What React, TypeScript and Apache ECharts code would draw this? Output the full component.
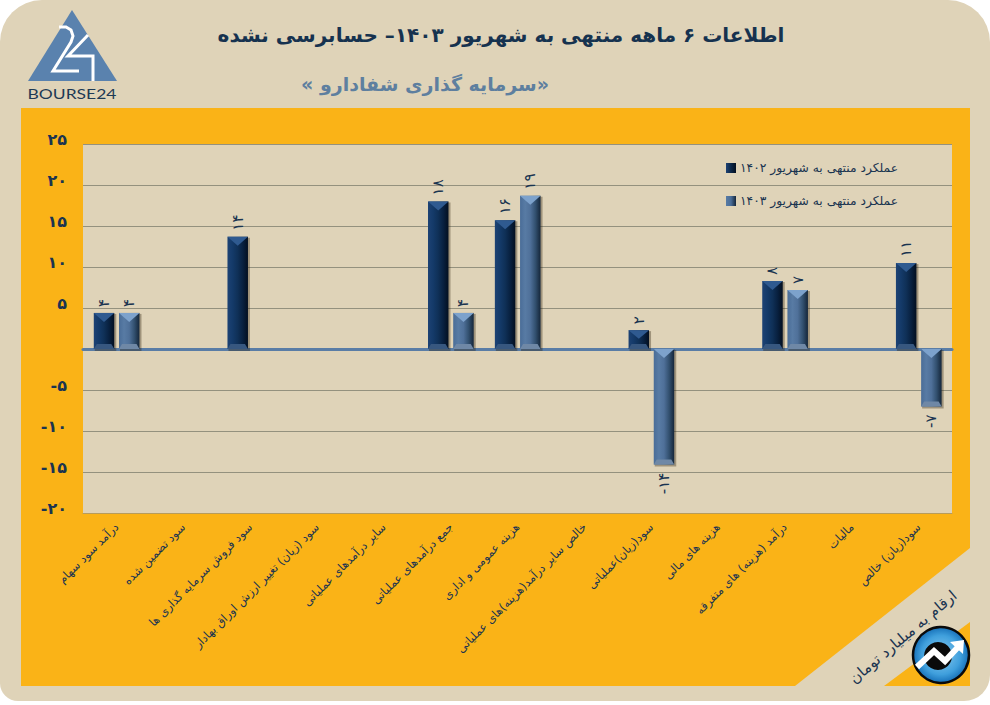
import React, { useEffect, useRef } from "react";
import * as echarts from "echarts";

const categories = [
  "درآمد سود سهام",
  "سود تضمین شده",
  "سود فروش سرمایه گذاری ها",
  "سود (زیان) تغییر ارزش اوراق بهادار",
  "سایر درآمدهای عملیاتی",
  "جمع درآمدهای عملیاتی",
  "هزینه عمومی و اداری",
  "خالص سایر درآمد(هزینه)های عملیاتی",
  "سود(زیان)عملیاتی",
  "هزینه های مالی",
  "درآمد (هزینه) های متفرقه",
  "مالیات",
  "سود(زیان) خالص",
];
const values1402 = [4.4, null, 13.7, null, null, 18, 15.7, null, 2.3, null, 8.3, null, 10.5];
const values1403 = [4.4, null, null, null, null, 4.4, 18.7, null, -14.1, null, 7.2, null, -7];
const name1402 = "عملکرد منتهی به شهریور ۱۴۰۲";
const name1403 = "عملکرد منتهی به شهریور ۱۴۰۳";
const titleText = "اطلاعات ۶ ماهه منتهی به شهریور ۱۴۰۳– حسابرسی نشده";
const subtitleText = "\u200F«سرمایه گذاری شفادارو »\u200F";
const unitText = "ارقام به میلیارد تومان";
const logoText = "BOURSE24";

const FONT = "'DejaVu Sans', sans-serif";
const NAVY = "#1a3450";
const BEIGE = "#DFD3B8";
const ORANGE = "#FAB317";

const fa = (n: number) =>
  String(n).replace(/\d/g, (d) => "۰۱۲۳۴۵۶۷۸۹"[Number(d)]);

const h = (stops: string[]) => ({
  type: "linear",
  x: 0,
  y: 0,
  x2: 1,
  y2: 0,
  colorStops: stops.map((color, i) => ({ offset: i / (stops.length - 1), color })),
});

const pal1402 = {
  body: h(["#1d4274", "#143a69", "#0f3057", "#08203f", "#030f20"]),
  top: "#2f5a90",
  bottom: "#37577f",
  icon: h(["#1d4274", "#0c2748", "#030f20"]),
};
const pal1403 = {
  body: h(["#4a6d98", "#587ba4", "#4f7099", "#32506f", "#15263a"]),
  top: "#7da2cc",
  bottom: "#6f88a6",
  icon: h(["#587ba4", "#4a6d98", "#15263a"]),
};

function makeRender(pal: any, offset: number) {
  return (_p: any, api: any) => {
    const v = api.value(1);
    if (v === null || v === undefined || isNaN(v)) return null;
    const [cx, y1] = api.coord([api.value(0), v]);
    const [, y0] = api.coord([api.value(0), 0]);
    const w = 20.5;
    const x = cx + offset - w / 2;
    const top = Math.min(y0, y1);
    const bot = Math.max(y0, y1);
    const H = bot - top;
    const bev = Math.min(9, H * 0.45);
    const children: any[] = [
      {
        type: "rect",
        shape: { x: x + 1, y: top + 1, width: w + 1, height: H + 1 },
        style: { fill: "rgba(40,30,10,0.35)" },
      },
      {
        type: "rect",
        shape: { x, y: top, width: w, height: H },
        style: { fill: pal.body },
      },
      {
        type: "polygon",
        shape: { points: [[x, top], [x + w, top], [x + w / 2, top + bev]] },
        style: { fill: pal.top },
      },
      {
        type: "polygon",
        shape: {
          points: [[x, bot], [x + w, bot], [x + w - 3, bot - 5], [x + 3, bot - 5]],
        },
        style: { fill: pal.bottom },
      },
      {
        type: "text",
        x: cx + offset,
        y: v >= 0 ? top - 6 : bot + 8,
        rotation: Math.PI / 2,
        style: {
          text: fa(Math.round(v)),
          fill: NAVY,
          font: `15px ${FONT}`,
          align: v >= 0 ? "left" : "right",
          verticalAlign: "middle",
        },
      },
    ];
    return { type: "group", children };
  };
}

const seriesData = (vals: (number | null)[]) => vals.map((v, i) => [i, v]);

export default function App() {
  const ref = useRef<HTMLDivElement>(null);
  useEffect(() => {
    const chart = echarts.init(ref.current!, undefined, { renderer: "svg" });
    chart.setOption({
      animation: false,
      backgroundColor: "#ffffff",
      textStyle: { fontFamily: FONT },
      grid: {
        left: 83,
        right: 38,
        top: 144,
        bottom: 192,
        show: true,
        backgroundColor: BEIGE,
        borderWidth: 0,
      },
      legend: {
        left: 721,
        top: 157,
        orient: "vertical",
        itemWidth: 10,
        itemHeight: 10,
        itemGap: 21,
        selectedMode: false,
        textStyle: { color: NAVY, fontFamily: FONT, fontSize: 12.3, padding: [0, 0, 0, -1] },
        data: [
          { name: name1402, icon: "rect", itemStyle: { color: pal1402.icon } },
          { name: name1403, icon: "rect", itemStyle: { color: pal1403.icon } },
        ],
      },
      xAxis: [
        {
          type: "category",
          data: categories,
          position: "bottom",
          axisLine: { onZero: false, lineStyle: { color: "#b79c5c", width: 1 } },
          axisTick: { show: false },
          axisLabel: {
            interval: 0,
            rotate: 45,
            margin: 12,
            color: NAVY,
            fontFamily: FONT,
            fontSize: 11.5,
          },
          splitLine: { show: false },
        },
        {
          type: "category",
          data: categories,
          position: "bottom",
          axisLine: { onZero: true, lineStyle: { color: "#5a7da6", width: 3 } },
          axisTick: { show: false },
          axisLabel: { show: false },
          splitLine: { show: false },
        },
      ],
      yAxis: {
        type: "value",
        min: -20,
        max: 25,
        interval: 5,
        axisLine: { show: false },
        axisTick: { show: false },
        splitLine: { lineStyle: { color: "#94917e", width: 1 } },
        axisLabel: {
          margin: 16,
          color: NAVY,
          fontFamily: FONT,
          fontWeight: "bold",
          fontSize: 16,
          verticalAlign: "bottom",
          lineHeight: 10,
          formatter: (v: number) => (v === 0 ? "" : fa(v)),
        },
      },
      series: [
        {
          name: name1402,
          type: "custom",
          xAxisIndex: 0,
          data: seriesData(values1402),
          encode: { x: 0, y: 1 },
          renderItem: makeRender(pal1402, -12.4),
        },
        {
          name: name1403,
          type: "custom",
          xAxisIndex: 0,
          data: seriesData(values1403),
          encode: { x: 0, y: 1 },
          renderItem: makeRender(pal1403, 12.8),
        },
      ],
      graphic: [
        {
          type: "rect",
          z: -30,
          shape: { x: 0, y: 0, width: 990, height: 701, r: [42, 42, 26, 18] },
          style: { fill: BEIGE },
        },
        {
          type: "polygon",
          z: -20,
          shape: {
            points: [[21, 108], [970, 108], [970, 548], [795, 686], [21, 686]],
          },
          style: { fill: ORANGE },
        },
        {
          type: "polygon",
          z: -20,
          shape: { points: [[970, 622], [970, 686], [884, 686]] },
          style: { fill: ORANGE },
        },
        {
          type: "text",
          x: 501,
          y: 35,
          style: {
            text: titleText,
            fill: "#16324f",
            font: `bold 20px ${FONT}`,
            align: "center",
            verticalAlign: "middle",
          },
        },
        {
          type: "text",
          x: 425,
          y: 84,
          style: {
            text: subtitleText,
            fill: "#5e7f9f",
            font: `bold 19px ${FONT}`,
            align: "center",
            verticalAlign: "middle",
          },
        },
        {
          type: "text",
          x: 903,
          y: 637,
          rotation: 0.7,
          style: {
            text: unitText,
            fill: NAVY,
            font: `15px ${FONT}`,
            align: "center",
            verticalAlign: "middle",
          },
        },
        // Bourse24 logo
        {
          type: "polygon",
          shape: { points: [[72, 10], [28, 81], [117, 81]] },
          style: { fill: "#5a82ae" },
        },
        {
          type: "polyline",
          shape: {
            points: [[59, 27], [66, 27], [71, 30], [73, 36], [71, 42], [53, 71], [79, 71]],
          },
          style: { stroke: "#ffffff", lineWidth: 3, fill: "none" },
        },
        {
          type: "polyline",
          shape: { points: [[88, 35], [68, 56], [93, 56], [93, 81]] },
          style: { stroke: "#ffffff", lineWidth: 3, fill: "none" },
        },
        {
          type: "text",
          x: 72,
          y: 93,
          scaleX: 1.25,
          style: {
            text: logoText,
            fill: "#1d3a55",
            font: `14px Lato, ${FONT}`,
            align: "center",
            verticalAlign: "middle",
          },
        },
        // Round badge
        {
          type: "circle",
          shape: { cx: 941, cy: 655, r: 28 },
          style: {
            fill: {
              type: "radial",
              x: 0.5,
              y: 0.5,
              r: 0.5,
              colorStops: [
                { offset: 0, color: "#8cccf0" },
                { offset: 0.7, color: "#3f9fdc" },
                { offset: 1, color: "#1670b8" },
              ],
            },
            stroke: "#0a0a0a",
            lineWidth: 2.5,
          },
        },
        {
          type: "circle",
          shape: { cx: 938, cy: 656, r: 14 },
          style: { fill: "#0a0a0a" },
        },
        {
          type: "polyline",
          shape: { points: [[917, 667], [934, 651], [945, 661], [959, 646]] },
          style: { stroke: "#ffffff", lineWidth: 6, fill: "none" },
        },
        {
          type: "polygon",
          shape: { points: [[950, 642], [964, 640], [963, 654]] },
          style: { fill: "#ffffff" },
        },
      ],
    });
    return () => chart.dispose();
  }, []);
  return (
    <div
      ref={ref}
      style={{ position: "fixed", left: 0, top: 0, width: 990, height: 705 }}
    />
  );
}
